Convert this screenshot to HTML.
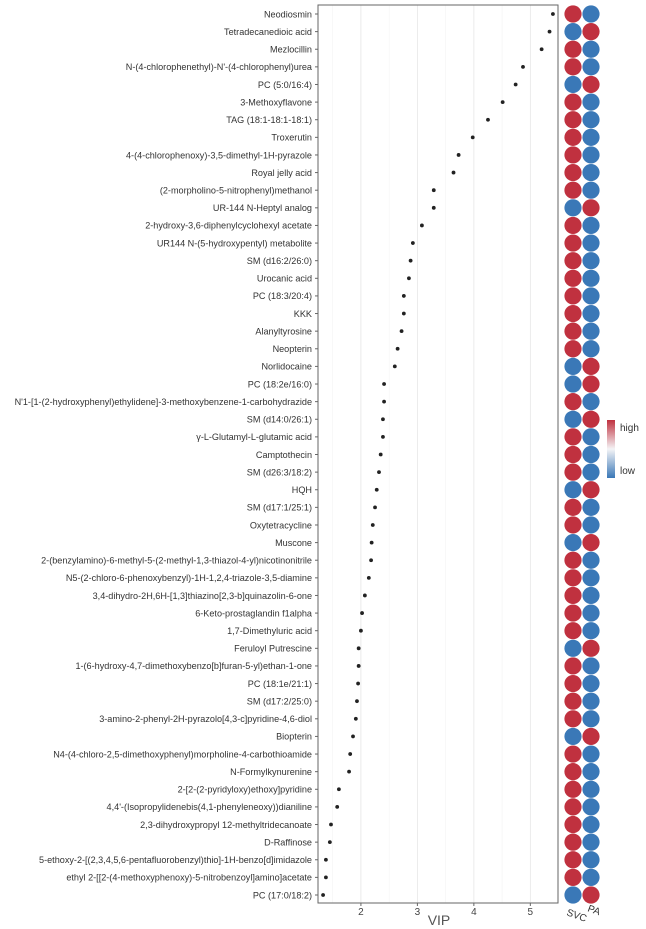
<!DOCTYPE html>
<html><head><meta charset="utf-8"><style>
html,body{margin:0;padding:0;background:#fff;}
svg{display:block;font-family:"Liberation Sans",sans-serif;}
</style></head><body>
<svg id="chart" width="646" height="929" viewBox="0 0 646 929">
<defs><linearGradient id="lg" x1="0" y1="0" x2="0" y2="1">
<stop offset="0" stop-color="#c0313f"/><stop offset="0.5" stop-color="#f4f4f6"/><stop offset="1" stop-color="#3a78b7"/></linearGradient></defs>
<g id="grid"></g><g id="rows"></g><g id="heat"></g>
<rect x="318" y="5" width="240" height="898" fill="none" stroke="#666" stroke-width="1"/>
<g id="xaxis"></g>
<text x="439" y="925" font-size="14" fill="#555" text-anchor="middle">VIP</text>
<text transform="translate(566,915) rotate(20)" font-size="10" fill="#333">SVC</text>
<text transform="translate(587,911) rotate(20)" font-size="10" fill="#333">PA</text>
<rect x="607" y="420" width="8" height="58" fill="url(#lg)"/>
<text x="620" y="431" font-size="10" fill="#333">high</text>
<text x="620" y="474" font-size="10" fill="#333">low</text>
</svg>
<script>
const names=["Neodiosmin","Tetradecanedioic acid","Mezlocillin","N-(4-chlorophenethyl)-N'-(4-chlorophenyl)urea","PC (5:0/16:4)","3-Methoxyflavone","TAG (18:1-18:1-18:1)","Troxerutin","4-(4-chlorophenoxy)-3,5-dimethyl-1H-pyrazole","Royal jelly acid","(2-morpholino-5-nitrophenyl)methanol","UR-144 N-Heptyl analog","2-hydroxy-3,6-diphenylcyclohexyl acetate","UR144 N-(5-hydroxypentyl) metabolite","SM (d16:2/26:0)","Urocanic acid","PC (18:3/20:4)","KKK","Alanyltyrosine","Neopterin","Norlidocaine","PC (18:2e/16:0)","N'1-[1-(2-hydroxyphenyl)ethylidene]-3-methoxybenzene-1-carbohydrazide","SM (d14:0/26:1)","γ-L-Glutamyl-L-glutamic acid","Camptothecin","SM (d26:3/18:2)","HQH","SM (d17:1/25:1)","Oxytetracycline","Muscone","2-(benzylamino)-6-methyl-5-(2-methyl-1,3-thiazol-4-yl)nicotinonitrile","N5-(2-chloro-6-phenoxybenzyl)-1H-1,2,4-triazole-3,5-diamine","3,4-dihydro-2H,6H-[1,3]thiazino[2,3-b]quinazolin-6-one","6-Keto-prostaglandin f1alpha","1,7-Dimethyluric acid","Feruloyl Putrescine","1-(6-hydroxy-4,7-dimethoxybenzo[b]furan-5-yl)ethan-1-one","PC (18:1e/21:1)","SM (d17:2/25:0)","3-amino-2-phenyl-2H-pyrazolo[4,3-c]pyridine-4,6-diol","Biopterin","N4-(4-chloro-2,5-dimethoxyphenyl)morpholine-4-carbothioamide","N-Formylkynurenine","2-[2-(2-pyridyloxy)ethoxy]pyridine","4,4'-(Isopropylidenebis(4,1-phenyleneoxy))dianiline","2,3-dihydroxypropyl 12-methyltridecanoate","D-Raffinose","5-ethoxy-2-[(2,3,4,5,6-pentafluorobenzyl)thio]-1H-benzo[d]imidazole","ethyl 2-[[2-(4-methoxyphenoxy)-5-nitrobenzoyl]amino]acetate","PC (17:0/18:2)"];
const vip=[5.40,5.34,5.20,4.87,4.74,4.51,4.25,3.98,3.73,3.64,3.29,3.29,3.08,2.92,2.88,2.85,2.76,2.76,2.72,2.65,2.60,2.41,2.41,2.39,2.39,2.35,2.32,2.28,2.25,2.21,2.19,2.18,2.14,2.07,2.02,2.00,1.96,1.96,1.95,1.93,1.91,1.86,1.81,1.79,1.61,1.58,1.47,1.45,1.38,1.38,1.33];
const svcHigh=[1,0,1,1,0,1,1,1,1,1,1,0,1,1,1,1,1,1,1,1,0,0,1,0,1,1,1,0,1,1,0,1,1,1,1,1,0,1,1,1,1,0,1,1,1,1,1,1,1,1,0];
const xTicks=[2,3,4,5];
const NS="http://www.w3.org/2000/svg";
const x0=318,x1=558,vmin=1.24,vmax=5.49;
const xs=v=>x0+(v-vmin)/(vmax-vmin)*(x1-x0);
const ys=i=>14+i*(895-14)/(names.length-1);
function mk(t,a,p){const e=document.createElementNS(NS,t);for(const k in a)e.setAttribute(k,a[k]);p.appendChild(e);return e;}
const grid=document.getElementById('grid'),rows=document.getElementById('rows'),heat=document.getElementById('heat'),xa=document.getElementById('xaxis');
for(let v=1.5;v<=5.5;v+=0.5){if(v<vmin||v>vmax)continue;const g=mk('line',{x1:xs(v),x2:xs(v),y1:5,y2:903,stroke:Number.isInteger(v)?'#e6e6e6':'#f3f3f3','stroke-width':Number.isInteger(v)?0.8:0.6},grid);

}
xTicks.forEach(v=>{const l=mk('line',{x1:xs(v),x2:xs(v),y1:903,y2:906,stroke:'#666'},xa);


const t=mk('text',{x:xs(v),y:915,'font-size':10,fill:'#444','text-anchor':'middle'},xa);t.textContent=v;

});
names.forEach((n,i)=>{const y=ys(i);
const t=mk('text',{x:312,y:y+3.3,'font-size':9.1,fill:'#333','text-anchor':'end'},rows);t.textContent=n;


const tk=mk('line',{x1:315,x2:318,y1:y,y2:y,stroke:'#666'},rows);


const d=mk('circle',{cx:xs(vip[i]),cy:y,r:1.9,fill:'#222'},rows);


const R='#c0313f',B='#3a78b7';
const c1=mk('circle',{cx:573,cy:y,r:8.6,fill:svcHigh[i]?R:B},heat);


const c2=mk('circle',{cx:591,cy:y,r:8.6,fill:svcHigh[i]?B:R},heat);

});
</script>
</body></html>
